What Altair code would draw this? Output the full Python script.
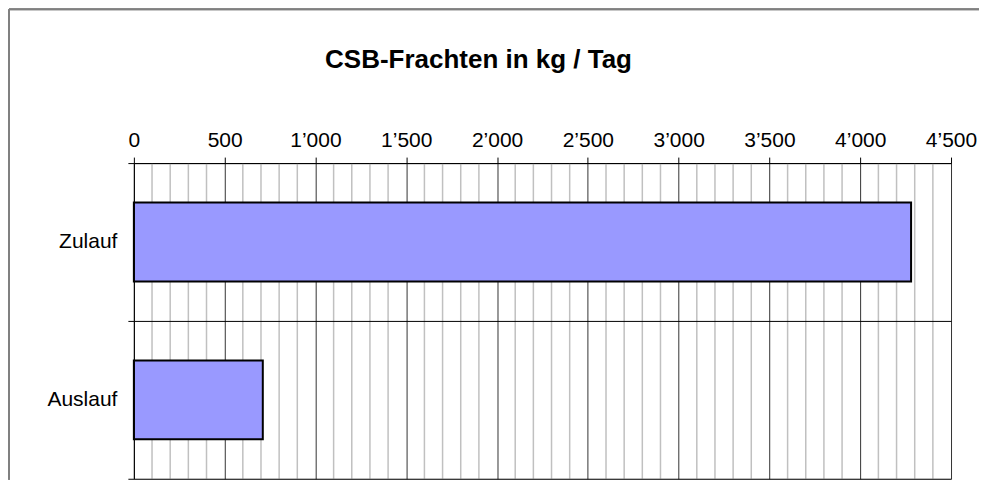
import altair as alt
import pandas as pd

categories = ["Zulauf", "Auslauf"]
values = [4280, 710]
major_ticks = [0, 500, 1000, 1500, 2000, 2500, 3000, 3500, 4000, 4500]
minor_ticks = [v for v in range(100, 4500, 100) if v % 500 != 0]
title_text = "CSB-Frachten in kg / Tag"

bars_df = pd.DataFrame({"cat": categories, "val": values})
minor_df = pd.DataFrame({"m": minor_ticks})
title_df = pd.DataFrame({"t": [title_text]})

FONT = "Liberation Sans"
W, H = 818, 316
PL, PT, PR, PB = 126, 155, 28, 1

x_scale = alt.Scale(domain=[0, 4500], nice=False, zero=True)
x_axis = alt.Axis(
    orient="top",
    values=major_ticks,
    title=None,
    grid=True,
    gridColor="#333333",
    gridWidth=1,
    domainColor="black",
    tickColor="black",
    tickSize=6,
    labelFont=FONT,
    labelFontSize=21,
    labelColor="black",
    labelPadding=7,
    labelFlush=False,
    labelOverlap=False,
    labelExpr="replace(format(datum.value, ','), ',', '\u2019')",
    zindex=0,
)

minor = alt.Chart(minor_df).mark_rule(color="#c0c0c0", strokeWidth=1.5).encode(
    x=alt.X("m:Q", scale=x_scale, axis=x_axis)
)

bars = alt.Chart(bars_df).mark_bar(
    color="#9999ff", stroke="black", strokeWidth=2, height={"band": 0.5}
).encode(
    x=alt.X("val:Q", scale=x_scale, axis=x_axis),
    y=alt.Y(
        "cat:N",
        sort=categories,
        scale=alt.Scale(paddingInner=0, paddingOuter=0),
        axis=alt.Axis(
            title=None,
            grid=True,
            gridColor="black",
            gridWidth=1,
            tickBand="extent",
            domainColor="black",
            tickColor="black",
            tickSize=6,
            labelFont=FONT,
            labelFontSize=21,
            labelColor="black",
            labelPadding=11,
            zindex=1,
        ),
    ),
)

title = alt.Chart(title_df).mark_text(
    font=FONT, fontSize=26, fontWeight="bold", color="black",
    align="center", baseline="alphabetic"
).encode(
    text="t:N", x=alt.value(345), y=alt.value(-95)
)

frame_left = alt.Chart(bars_df).mark_rule(color="#808080", strokeWidth=2).encode(
    x=alt.value(-PL + 1), y=alt.value(-PT + 1), y2=alt.value(H + PB)
)
frame_top = alt.Chart(bars_df).mark_rule(color="#808080", strokeWidth=2).encode(
    x=alt.value(-PL + 1), x2=alt.value(W + PR + 5), y=alt.value(-PT + 1)
)

chart = (
    alt.layer(minor, bars, title, frame_left, frame_top)
    .properties(
        width=W,
        height=H,
        autosize=alt.AutoSizeParams(type="none"),
        padding={"left": PL, "top": PT, "right": PR, "bottom": PB},
    )
    .configure_view(stroke="black", strokeWidth=1)
    .configure(background="white")
)

chart.save("out.html", embed_options={"renderer": "svg", "actions": False})
